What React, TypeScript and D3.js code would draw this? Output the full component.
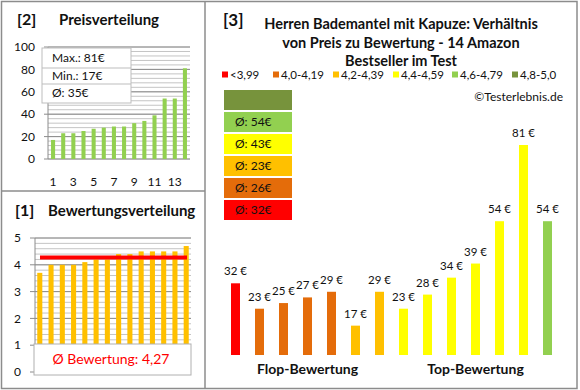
import React from "react";
import * as d3 from "d3";

// Produkte in der Reihenfolge von Diagramm [3] (nach Bewertung sortiert)
const prices = [32, 23, 25, 27, 29, 17, 29, 23, 28, 34, 39, 54, 81, 54];
const ratings = [3.7, 4.0, 4.0, 4.0, 4.1, 4.2, 4.2, 4.4, 4.4, 4.5, 4.5, 4.5, 4.5, 4.7];
const avgRatingLabel = "4,27";
const avgRating = 4.27;

const legendLabels = ["<3,99", "4,0-4,19", "4,2-4,39", "4,4-4,59", "4,6-4,79", "4,8-5,0"];
const legendColors = ["#FF0000", "#E46C0A", "#FFC000", "#FFFF00", "#92D050", "#77933C"];
const legendLimits = [0, 4.0, 4.2, 4.4, 4.6, 4.8];

const priceTicks = [0, 20, 40, 60, 80, 100];
const ratingTicks = [0, 1, 2, 3, 4, 5];
const font = "Lato, 'Open Sans', sans-serif";
const ink = "#111";

function ratingClass(r: number) {
  let k = 0;
  legendLimits.forEach((l, i) => {
    if (r >= l - 1e-9) k = i;
  });
  return k;
}

function PricePanel() {
  const sorted = [...prices].sort((a, b) => a - b);
  const idx = sorted.map((_, i) => i + 1);
  const x = d3.scaleBand<number>().domain(idx).range([48, 190]).paddingInner(0.6).paddingOuter(0.3);
  const y = d3.scaleLinear().domain([0, 100]).range([159, 47]);
  const minor = d3.range(0, 101, 4);
  const avg = Math.round(d3.mean(prices) as number);
  const rows = [
    `Max.: ${d3.max(prices)}€`,
    `Min.: ${d3.min(prices)}€`,
    `Ø: ${avg}€`,
  ];
  return (
    <g fontFamily={font}>
      <text x={17} y={25} fontSize={16} fontWeight="bold" fill={ink}>[2]</text>
      <text x={59} y={25} fontSize={15} fontWeight="bold" fill={ink}>Preisverteilung</text>
      {minor.map((t) => (
        <line key={"m" + t} x1={48} x2={190} y1={y(t)} y2={y(t)} stroke="#c4c4c4" strokeWidth={1} />
      ))}
      {priceTicks.map((t) => (
        <g key={t}>
          <line x1={44} x2={190} y1={y(t)} y2={y(t)} stroke="#8c8c8c" strokeWidth={1} />
          <text x={35} y={y(t)} dy="0.35em" textAnchor="end" fontSize={12} fill={ink}>{t}</text>
        </g>
      ))}
      <line x1={48} x2={48} y1={y(100)} y2={y(0)} stroke="#8c8c8c" />
      {sorted.map((v, i) => (
        <rect key={i} x={x(i + 1)} width={x.bandwidth()} y={y(v)} height={y(0) - y(v)} fill="#92D050" />
      ))}
      {idx.filter((i) => i % 2 === 1).map((i) => (
        <text key={i} x={(x(i) as number) + x.bandwidth() / 2} y={186} textAnchor="middle" fontSize={12} fill={ink}>{i}</text>
      ))}
      <rect x={42} y={48} width={89} height={55} fill="#fff" stroke="#bdbdbd" />
      <line x1={42} x2={131} y1={68} y2={68} stroke="#bdbdbd" />
      <line x1={42} x2={131} y1={84} y2={84} stroke="#bdbdbd" />
      {rows.map((r, i) => (
        <text key={r} x={52} y={[58, 76, 93][i]} dy="0.35em" fontSize={12} fill={ink}>{r}</text>
      ))}
    </g>
  );
}

function RatingPanel() {
  const sorted = [...ratings].sort((a, b) => a - b);
  const idx = sorted.map((_, i) => i);
  const x = d3.scaleBand<number>().domain(idx).range([35, 191]).paddingInner(0.55).paddingOuter(0.2);
  const y = d3.scaleLinear().domain([0, 5]).range([372, 238]);
  const minor = d3.range(0, 5.01, 0.2);
  return (
    <g fontFamily={font}>
      <text x={15} y={216} fontSize={16} fontWeight="bold" fill={ink}>[1]</text>
      <text x={48} y={216} fontSize={15} fontWeight="bold" fill={ink}>Bewertungsverteilung</text>
      {minor.map((t, i) => (
        <line key={"m" + i} x1={35} x2={191} y1={y(t)} y2={y(t)} stroke="#c4c4c4" />
      ))}
      {ratingTicks.map((t) => (
        <g key={t}>
          <line x1={30} x2={191} y1={y(t)} y2={y(t)} stroke="#8c8c8c" />
          <text x={21} y={y(t)} dy="0.35em" textAnchor="end" fontSize={12} fill={ink}>{t}</text>
        </g>
      ))}
      <line x1={35} x2={35} y1={y(5)} y2={y(0)} stroke="#8c8c8c" />
      {sorted.map((v, i) => (
        <rect key={i} x={x(i)} width={x.bandwidth()} y={y(v)} height={y(0) - y(v)} fill="#FFC000" />
      ))}
      <line x1={40} x2={187} y1={y(avgRating)} y2={y(avgRating)} stroke="#FF0000" strokeWidth={4} />
      <rect x={34} y={344} width={157} height={31} fill="#fff" stroke="#b0b0b0" />
      <text x={111} y={359} dy="0.35em" textAnchor="middle" fontSize={14} fill="#FF0000">
        Ø Bewertung: {avgRatingLabel}
      </text>
    </g>
  );
}

function RelationPanel() {
  const idx = prices.map((_, i) => i);
  const x = d3.scalePoint<number>().domain(idx).range([235.5, 547.5]);
  const y = d3.scaleLinear().domain([6.6, 81]).range([355, 145]);
  const bw = 9;
  const classes = ratings.map(ratingClass);
  const legendX = [222, 273, 333, 393, 452, 512];
  const boxY = [90, 112, 134, 156, 178, 200];
  // Boxen von oben: beste Klasse zuerst
  const boxes = d3.range(5, -1, -1).map((k) => {
    const vals = prices.filter((_, i) => classes[i] === k);
    return { k, avg: vals.length ? Math.round(d3.mean(vals) as number) : null };
  });
  return (
    <g fontFamily={font}>
      <text x={223} y={26} fontSize={17} fontWeight="bold" fill={ink}>[3]</text>
      {["Herren Bademantel mit Kapuze: Verhältnis", "von Preis zu Bewertung - 14 Amazon", "Bestseller im Test"].map((t, i) => (
        <text key={t} x={401} y={[24, 43, 61][i]} dy="0.35em" textAnchor="middle" fontSize={14.5} fontWeight="bold" fill={ink}>{t}</text>
      ))}
      {legendLabels.map((l, i) => (
        <g key={l}>
          <rect x={legendX[i]} y={71.5} width={6} height={6} fill={legendColors[i]} />
          <text x={legendX[i] + 8} y={75} dy="0.35em" fontSize={11.5} fill={ink}>{l}</text>
        </g>
      ))}
      <text x={563} y={97} dy="0.35em" textAnchor="end" fontSize={12} fill={ink}>©Testerlebnis.de</text>
      {boxes.map((b, i) => (
        <g key={b.k}>
          <rect x={224} y={boxY[i]} width={68} height={20} fill={legendColors[b.k]} />
          {b.avg !== null && (
            <text x={235} y={boxY[i] + 10} dy="0.35em" fontSize={12} fill={ink}>Ø: {b.avg}€</text>
          )}
        </g>
      ))}
      {prices.map((v, i) => (
        <g key={i}>
          <rect x={(x(i) as number) - bw / 2} width={bw} y={y(v)} height={y(6.6) - y(v)} fill={legendColors[classes[i]]} />
          <text x={x(i)} y={y(v) - 12} dy="0.35em" textAnchor="middle" fontSize={11.5} fill={ink}>{v} €</text>
        </g>
      ))}
      <text x={x(3)} y={369} dy="0.35em" textAnchor="middle" fontSize={14} fontWeight="bold" fill={ink}>Flop-Bewertung</text>
      <text x={x(10)} y={369} dy="0.35em" textAnchor="middle" fontSize={14} fontWeight="bold" fill={ink}>Top-Bewertung</text>
    </g>
  );
}

export default function App() {
  return (
    <svg width={580} height={390} style={{ position: "absolute", left: 0, top: 0, background: "#fff" }}>
      <rect x={0} y={0} width={580} height={390} fill="#fff" />
      <rect x={1.5} y={1.5} width={575.5} height={387} fill="none" stroke="#8c8c8c" strokeWidth={1.5} />
      <line x1={205} x2={205} y1={1} y2={389} stroke="#8c8c8c" strokeWidth={1.5} />
      <line x1={1} x2={205} y1={191} y2={191} stroke="#8c8c8c" strokeWidth={1.5} />
      <PricePanel />
      <RatingPanel />
      <RelationPanel />
    </svg>
  );
}
